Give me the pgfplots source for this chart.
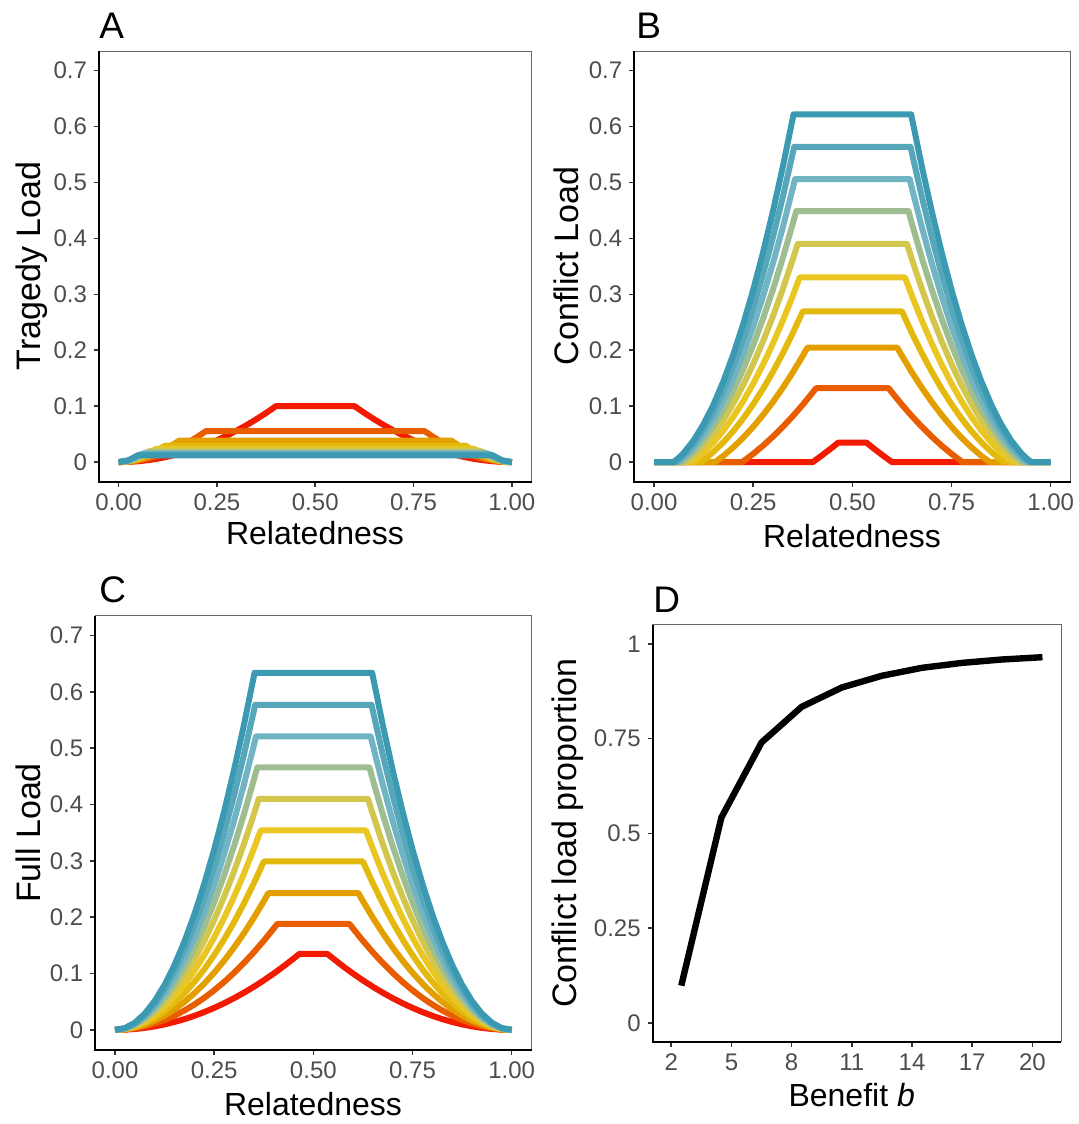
\documentclass[border=0pt]{standalone}
\usepackage{fontspec}
\setmainfont{Liberation Sans}
\usepackage{pgfplots}
\pgfplotsset{compat=1.18}
\definecolor{c0}{RGB}{242,26,0}
\definecolor{c1}{RGB}{234,92,0}
\definecolor{c2}{RGB}{227,158,0}
\definecolor{c3}{RGB}{228,185,14}
\definecolor{c4}{RGB}{233,198,33}
\definecolor{c5}{RGB}{210,199,76}
\definecolor{c6}{RGB}{158,190,145}
\definecolor{c7}{RGB}{113,180,195}
\definecolor{c8}{RGB}{86,167,186}
\definecolor{c9}{RGB}{59,154,178}
\definecolor{tickgray}{RGB}{77,77,77}
\newcommand{\tickfont}{\fontsize{12}{14}\selectfont}
\newcommand{\titlefont}{\fontsize{16}{19}\selectfont}
\newcommand{\ytitlefont}{\fontsize{17}{20}\selectfont}
\newcommand{\letterfont}{\fontsize{18.5}{22}\selectfont}
\pgfplotsset{
  panel/.style={
    scale only axis, anchor=south west, clip=false,
    axis line style={line width=0.5pt, draw=black!60},
    tick align=outside, major tick length=2.5pt,
    tick style={line width=0.8pt, draw=black!80},
    xtick pos=left, ytick pos=left,
    tick label style={font=\tickfont, text=tickgray},
  },
  rel/.style={panel,
    xmin=-0.05, xmax=1.05, ymin=-0.035, ymax=0.735,
    xtick={0,0.25,0.5,0.75,1}, xticklabels={0.00,0.25,0.50,0.75,1.00},
    ytick={0,0.1,0.2,0.3,0.4,0.5,0.6,0.7}, yticklabels={0,0.1,0.2,0.3,0.4,0.5,0.6,0.7},
  },
  ln/.style={line width=3pt, line join=round, #1},
}
\newcommand{\frameLB}{\draw[black, line width=1pt] (rel axis cs:0,1) -- (rel axis cs:0,0) -- (rel axis cs:1,0);}
\begin{document}
\begin{tikzpicture}[x=1pt,y=1pt]
\path[use as bounding box] (0,0) rectangle (539.5,562);

% ---------------- A: Tragedy load
\begin{axis}[rel, at={(49.5pt,321.15pt)}, width=216.25pt, height=215.35pt]
\addplot[ln=c0] coordinates {(0,0) (0.025,0.00039) (0.05,0.00156) (0.075,0.00352) (0.1,0.00625) (0.125,0.00977) (0.15,0.01406) (0.175,0.01914) (0.2,0.025) (0.225,0.03164) (0.25,0.03906) (0.275,0.04727) (0.3,0.05625) (0.325,0.06602) (0.35,0.07656) (0.375,0.08789) (0.4,0.1) (0.6,0.1) (0.625,0.08789) (0.65,0.07656) (0.675,0.06602) (0.7,0.05625) (0.725,0.04727) (0.75,0.03906) (0.775,0.03164) (0.8,0.025) (0.825,0.01914) (0.85,0.01406) (0.875,0.00977) (0.9,0.00625) (0.925,0.00352) (0.95,0.00156) (0.975,0.00039) (1,0)};
\addplot[ln=c1] coordinates {(0,0) (0.025,0.0007) (0.05,0.00281) (0.075,0.00633) (0.1,0.01125) (0.125,0.01758) (0.15,0.02531) (0.175,0.03445) (0.2,0.045) (0.2222,0.05556) (0.7778,0.05556) (0.8,0.045) (0.825,0.03445) (0.85,0.02531) (0.875,0.01758) (0.9,0.01125) (0.925,0.00633) (0.95,0.00281) (0.975,0.0007) (1,0)};
\addplot[ln=c2] coordinates {(0,0) (0.025,0.00102) (0.05,0.00406) (0.075,0.00914) (0.1,0.01625) (0.125,0.02539) (0.15,0.03656) (0.1538,0.03846) (0.8462,0.03846) (0.85,0.03656) (0.875,0.02539) (0.9,0.01625) (0.925,0.00914) (0.95,0.00406) (0.975,0.00102) (1,0)};
\addplot[ln=c3] coordinates {(0,0) (0.025,0.00133) (0.05,0.00531) (0.075,0.01195) (0.1,0.02125) (0.1176,0.02941) (0.8824,0.02941) (0.9,0.02125) (0.925,0.01195) (0.95,0.00531) (0.975,0.00133) (1,0)};
\addplot[ln=c4] coordinates {(0,0) (0.025,0.00164) (0.05,0.00656) (0.075,0.01477) (0.0952,0.02381) (0.9048,0.02381) (0.925,0.01477) (0.95,0.00656) (0.975,0.00164) (1,0)};
\addplot[ln=c5] coordinates {(0,0) (0.025,0.00195) (0.05,0.00781) (0.065,0.0132) (0.08,0.02) (0.92,0.02) (0.935,0.0132) (0.95,0.00781) (0.975,0.00195) (1,0)};
\addplot[ln=c6] coordinates {(0,0) (0.025,0.00227) (0.05,0.00906) (0.069,0.01724) (0.931,0.01724) (0.95,0.00906) (0.975,0.00227) (1,0)};
\addplot[ln=c7] coordinates {(0,0) (0.025,0.00258) (0.05,0.01031) (0.0606,0.01515) (0.9394,0.01515) (0.95,0.01031) (0.975,0.00258) (1,0)};
\addplot[ln=c8] coordinates {(0,0) (0.025,0.00289) (0.0541,0.01351) (0.9459,0.01351) (0.975,0.00289) (1,0)};
\addplot[ln=c9] coordinates {(0,0) (0.025,0.0032) (0.0488,0.0122) (0.9512,0.0122) (0.975,0.0032) (1,0)};
\frameLB
\end{axis}

% ---------------- B: Conflict load
\begin{axis}[rel, at={(317.1pt,321.15pt)}, width=218.15pt, height=215.35pt]
\addplot[ln=c0] coordinates {(0,0) (0.4,0) (0.425,0.01289) (0.45,0.02656) (0.4648,0.035) (0.5352,0.035) (0.55,0.02656) (0.575,0.01289) (0.6,0) (1,0)};
\addplot[ln=c1] coordinates {(0,0) (0.2222,0) (0.225,0.00139) (0.25,0.01475) (0.275,0.02952) (0.3,0.04569) (0.325,0.06327) (0.35,0.08225) (0.375,0.10264) (0.4,0.12444) (0.4088,0.1324) (0.5912,0.1324) (0.6,0.12444) (0.625,0.10264) (0.65,0.08225) (0.675,0.06327) (0.7,0.04569) (0.725,0.02952) (0.75,0.01475) (0.775,0.00139) (0.7778,0) (1,0)};
\addplot[ln=c2] coordinates {(0,0) (0.1538,0) (0.175,0.01131) (0.2,0.02654) (0.225,0.04381) (0.25,0.0631) (0.275,0.08443) (0.3,0.10779) (0.325,0.13318) (0.35,0.1606) (0.375,0.19006) (0.3867,0.2045) (0.6133,0.2045) (0.625,0.19006) (0.65,0.1606) (0.675,0.13318) (0.7,0.10779) (0.725,0.08443) (0.75,0.0631) (0.775,0.04381) (0.8,0.02654) (0.825,0.01131) (0.8462,0) (1,0)};
\addplot[ln=c3] coordinates {(0,0) (0.1176,0) (0.125,0.00379) (0.15,0.0184) (0.175,0.03567) (0.2,0.05559) (0.225,0.07817) (0.25,0.1034) (0.275,0.13129) (0.3,0.16184) (0.325,0.19504) (0.35,0.2309) (0.3751,0.2696) (0.6249,0.2696) (0.65,0.2309) (0.675,0.19504) (0.7,0.16184) (0.725,0.13129) (0.75,0.1034) (0.775,0.07817) (0.8,0.05559) (0.825,0.03567) (0.85,0.0184) (0.875,0.00379) (0.8824,0) (1,0)};
\addplot[ln=c4] coordinates {(0,0) (0.0952,0) (0.1,0.00244) (0.125,0.01721) (0.15,0.03525) (0.175,0.05658) (0.2,0.08119) (0.225,0.10908) (0.25,0.14025) (0.275,0.17471) (0.3,0.21244) (0.325,0.25346) (0.35,0.29775) (0.3672,0.3302) (0.6328,0.3302) (0.65,0.29775) (0.675,0.25346) (0.7,0.21244) (0.725,0.17471) (0.75,0.14025) (0.775,0.10908) (0.8,0.08119) (0.825,0.05658) (0.85,0.03525) (0.875,0.01721) (0.9,0.00244) (0.9048,0) (1,0)};
\addplot[ln=c5] coordinates {(0,0) (0.08,0) (0.09,0.00531) (0.1,0.01125) (0.125,0.02883) (0.15,0.05031) (0.175,0.0757) (0.2,0.105) (0.225,0.1382) (0.25,0.17531) (0.275,0.21633) (0.3,0.26125) (0.325,0.31008) (0.35,0.36281) (0.3622,0.39) (0.6378,0.39) (0.65,0.36281) (0.675,0.31008) (0.7,0.26125) (0.725,0.21633) (0.75,0.17531) (0.775,0.1382) (0.8,0.105) (0.825,0.0757) (0.85,0.05031) (0.875,0.02883) (0.9,0.01125) (0.91,0.00531) (0.92,0) (1,0)};
\addplot[ln=c6] coordinates {(0,0) (0.069,0) (0.075,0.00315) (0.1,0.01901) (0.125,0.0394) (0.15,0.06432) (0.175,0.09378) (0.2,0.12776) (0.225,0.16628) (0.25,0.20932) (0.275,0.2569) (0.3,0.30901) (0.325,0.36565) (0.35,0.42682) (0.3585,0.4488) (0.6415,0.4488) (0.65,0.42682) (0.675,0.36565) (0.7,0.30901) (0.725,0.2569) (0.75,0.20932) (0.775,0.16628) (0.8,0.12776) (0.825,0.09378) (0.85,0.06432) (0.875,0.0394) (0.9,0.01901) (0.925,0.00315) (0.931,0) (1,0)};
\addplot[ln=c7] coordinates {(0,0) (0.0606,0) (0.075,0.00805) (0.1,0.0261) (0.125,0.0493) (0.15,0.07766) (0.175,0.11118) (0.2,0.14985) (0.225,0.19368) (0.25,0.24266) (0.275,0.2968) (0.3,0.3561) (0.325,0.42055) (0.35,0.49016) (0.3554,0.5059) (0.6446,0.5059) (0.65,0.49016) (0.675,0.42055) (0.7,0.3561) (0.725,0.2968) (0.75,0.24266) (0.775,0.19368) (0.8,0.14985) (0.825,0.11118) (0.85,0.07766) (0.875,0.0493) (0.9,0.0261) (0.925,0.00805) (0.9394,0) (1,0)};
\addplot[ln=c8] coordinates {(0,0) (0.0541,0) (0.0625,0.00456) (0.075,0.01251) (0.1,0.03274) (0.125,0.05876) (0.15,0.09055) (0.175,0.12813) (0.2,0.17149) (0.225,0.22063) (0.25,0.27555) (0.275,0.33626) (0.3,0.40274) (0.325,0.47501) (0.35,0.55305) (0.3532,0.5635) (0.6468,0.5635) (0.65,0.55305) (0.675,0.47501) (0.7,0.40274) (0.725,0.33626) (0.75,0.27555) (0.775,0.22063) (0.8,0.17149) (0.825,0.12813) (0.85,0.09055) (0.875,0.05876) (0.9,0.03274) (0.925,0.01251) (0.9375,0.00456) (0.9459,0) (1,0)};
\addplot[ln=c9] coordinates {(0,0) (0.0488,0) (0.0625,0.00782) (0.075,0.01663) (0.1,0.03905) (0.125,0.06788) (0.15,0.10311) (0.175,0.14475) (0.2,0.1928) (0.225,0.24725) (0.25,0.30811) (0.275,0.37538) (0.3,0.44905) (0.325,0.52913) (0.35,0.61561) (0.3517,0.6218) (0.6483,0.6218) (0.65,0.61561) (0.675,0.52913) (0.7,0.44905) (0.725,0.37538) (0.75,0.30811) (0.775,0.24725) (0.8,0.1928) (0.825,0.14475) (0.85,0.10311) (0.875,0.06788) (0.9,0.03905) (0.925,0.01663) (0.9375,0.00782) (0.9512,0) (1,0)};
\frameLB
\end{axis}

% ---------------- C: Full load
\begin{axis}[rel, at={(47.6pt,37.2pt)}, width=218.15pt, height=216.85pt]
\addplot[ln=c0] coordinates {(0,0) (0.025,0.00039) (0.05,0.00156) (0.075,0.00352) (0.1,0.00625) (0.125,0.00977) (0.15,0.01406) (0.175,0.01914) (0.2,0.025) (0.225,0.03164) (0.25,0.03906) (0.275,0.04727) (0.3,0.05625) (0.325,0.06602) (0.35,0.07656) (0.375,0.08789) (0.4,0.1) (0.425,0.11289) (0.45,0.12656) (0.4648,0.135) (0.5352,0.135) (0.55,0.12656) (0.575,0.11289) (0.6,0.1) (0.625,0.08789) (0.65,0.07656) (0.675,0.06602) (0.7,0.05625) (0.725,0.04727) (0.75,0.03906) (0.775,0.03164) (0.8,0.025) (0.825,0.01914) (0.85,0.01406) (0.875,0.00977) (0.9,0.00625) (0.925,0.00352) (0.95,0.00156) (0.975,0.00039) (1,0)};
\addplot[ln=c1] coordinates {(0,0) (0.025,0.0007) (0.05,0.00281) (0.075,0.00633) (0.1,0.01125) (0.125,0.01758) (0.15,0.02531) (0.175,0.03445) (0.2,0.045) (0.225,0.05695) (0.25,0.07031) (0.275,0.08508) (0.3,0.10125) (0.325,0.11883) (0.35,0.13781) (0.375,0.1582) (0.4,0.18) (0.4088,0.188) (0.5912,0.188) (0.6,0.18) (0.625,0.1582) (0.65,0.13781) (0.675,0.11883) (0.7,0.10125) (0.725,0.08508) (0.75,0.07031) (0.775,0.05695) (0.8,0.045) (0.825,0.03445) (0.85,0.02531) (0.875,0.01758) (0.9,0.01125) (0.925,0.00633) (0.95,0.00281) (0.975,0.0007) (1,0)};
\addplot[ln=c2] coordinates {(0,0) (0.025,0.00102) (0.05,0.00406) (0.075,0.00914) (0.1,0.01625) (0.125,0.02539) (0.15,0.03656) (0.175,0.04977) (0.2,0.065) (0.225,0.08227) (0.25,0.10156) (0.275,0.12289) (0.3,0.14625) (0.325,0.17164) (0.35,0.19906) (0.375,0.22852) (0.3867,0.243) (0.6133,0.243) (0.625,0.22852) (0.65,0.19906) (0.675,0.17164) (0.7,0.14625) (0.725,0.12289) (0.75,0.10156) (0.775,0.08227) (0.8,0.065) (0.825,0.04977) (0.85,0.03656) (0.875,0.02539) (0.9,0.01625) (0.925,0.00914) (0.95,0.00406) (0.975,0.00102) (1,0)};
\addplot[ln=c3] coordinates {(0,0) (0.025,0.00133) (0.05,0.00531) (0.075,0.01195) (0.1,0.02125) (0.125,0.0332) (0.15,0.04781) (0.175,0.06508) (0.2,0.085) (0.225,0.10758) (0.25,0.13281) (0.275,0.1607) (0.3,0.19125) (0.325,0.22445) (0.35,0.26031) (0.3751,0.299) (0.6249,0.299) (0.65,0.26031) (0.675,0.22445) (0.7,0.19125) (0.725,0.1607) (0.75,0.13281) (0.775,0.10758) (0.8,0.085) (0.825,0.06508) (0.85,0.04781) (0.875,0.0332) (0.9,0.02125) (0.925,0.01195) (0.95,0.00531) (0.975,0.00133) (1,0)};
\addplot[ln=c4] coordinates {(0,0) (0.025,0.00164) (0.05,0.00656) (0.075,0.01477) (0.1,0.02625) (0.125,0.04102) (0.15,0.05906) (0.175,0.08039) (0.2,0.105) (0.225,0.13289) (0.25,0.16406) (0.275,0.19852) (0.3,0.23625) (0.325,0.27727) (0.35,0.32156) (0.3672,0.354) (0.6328,0.354) (0.65,0.32156) (0.675,0.27727) (0.7,0.23625) (0.725,0.19852) (0.75,0.16406) (0.775,0.13289) (0.8,0.105) (0.825,0.08039) (0.85,0.05906) (0.875,0.04102) (0.9,0.02625) (0.925,0.01477) (0.95,0.00656) (0.975,0.00164) (1,0)};
\addplot[ln=c5] coordinates {(0,0) (0.025,0.00195) (0.05,0.00781) (0.075,0.01758) (0.1,0.03125) (0.125,0.04883) (0.15,0.07031) (0.175,0.0957) (0.2,0.125) (0.225,0.1582) (0.25,0.19531) (0.275,0.23633) (0.3,0.28125) (0.325,0.33008) (0.35,0.38281) (0.3622,0.41) (0.6378,0.41) (0.65,0.38281) (0.675,0.33008) (0.7,0.28125) (0.725,0.23633) (0.75,0.19531) (0.775,0.1582) (0.8,0.125) (0.825,0.0957) (0.85,0.07031) (0.875,0.04883) (0.9,0.03125) (0.925,0.01758) (0.95,0.00781) (0.975,0.00195) (1,0)};
\addplot[ln=c6] coordinates {(0,0) (0.025,0.00227) (0.05,0.00906) (0.075,0.02039) (0.1,0.03625) (0.125,0.05664) (0.15,0.08156) (0.175,0.11102) (0.2,0.145) (0.225,0.18352) (0.25,0.22656) (0.275,0.27414) (0.3,0.32625) (0.325,0.38289) (0.35,0.44406) (0.3585,0.466) (0.6415,0.466) (0.65,0.44406) (0.675,0.38289) (0.7,0.32625) (0.725,0.27414) (0.75,0.22656) (0.775,0.18352) (0.8,0.145) (0.825,0.11102) (0.85,0.08156) (0.875,0.05664) (0.9,0.03625) (0.925,0.02039) (0.95,0.00906) (0.975,0.00227) (1,0)};
\addplot[ln=c7] coordinates {(0,0) (0.025,0.00258) (0.05,0.01031) (0.075,0.0232) (0.1,0.04125) (0.125,0.06445) (0.15,0.09281) (0.175,0.12633) (0.2,0.165) (0.225,0.20883) (0.25,0.25781) (0.275,0.31195) (0.3,0.37125) (0.325,0.4357) (0.35,0.50531) (0.3554,0.521) (0.6446,0.521) (0.65,0.50531) (0.675,0.4357) (0.7,0.37125) (0.725,0.31195) (0.75,0.25781) (0.775,0.20883) (0.8,0.165) (0.825,0.12633) (0.85,0.09281) (0.875,0.06445) (0.9,0.04125) (0.925,0.0232) (0.95,0.01031) (0.975,0.00258) (1,0)};
\addplot[ln=c8] coordinates {(0,0) (0.025,0.00289) (0.05,0.01156) (0.075,0.02602) (0.1,0.04625) (0.125,0.07227) (0.15,0.10406) (0.175,0.14164) (0.2,0.185) (0.225,0.23414) (0.25,0.28906) (0.275,0.34977) (0.3,0.41625) (0.325,0.48852) (0.35,0.56656) (0.3532,0.577) (0.6468,0.577) (0.65,0.56656) (0.675,0.48852) (0.7,0.41625) (0.725,0.34977) (0.75,0.28906) (0.775,0.23414) (0.8,0.185) (0.825,0.14164) (0.85,0.10406) (0.875,0.07227) (0.9,0.04625) (0.925,0.02602) (0.95,0.01156) (0.975,0.00289) (1,0)};
\addplot[ln=c9] coordinates {(0,0) (0.025,0.0032) (0.05,0.01281) (0.075,0.02883) (0.1,0.05125) (0.125,0.08008) (0.15,0.11531) (0.175,0.15695) (0.2,0.205) (0.225,0.25945) (0.25,0.32031) (0.275,0.38758) (0.3,0.46125) (0.325,0.54133) (0.35,0.62781) (0.3517,0.634) (0.6483,0.634) (0.65,0.62781) (0.675,0.54133) (0.7,0.46125) (0.725,0.38758) (0.75,0.32031) (0.775,0.25945) (0.8,0.205) (0.825,0.15695) (0.85,0.11531) (0.875,0.08008) (0.9,0.05125) (0.925,0.02883) (0.95,0.01281) (0.975,0.0032) (1,0)};
\frameLB
\end{axis}

% ---------------- D: Conflict load proportion
\begin{axis}[panel, at={(326.35pt,41.15pt)}, width=204.15pt, height=208.35pt,
  xmin=1.075, xmax=21.425, ymin=-0.05, ymax=1.05,
  xtick={2,5,8,11,14,17,20}, xticklabels={2,5,8,11,14,17,20},
  ytick={0,0.25,0.5,0.75,1}, yticklabels={0,0.25,0.5,0.75,1}]
\addplot[black, line width=3.2pt, line join=round] coordinates {(2.5,0.098) (4.5,0.542) (6.5,0.740) (8.5,0.834) (10.5,0.885) (12.5,0.916) (14.5,0.937) (16.5,0.950) (18.5,0.959) (20.5,0.965)};
\frameLB
\end{axis}

% ---------------- titles and labels
\node[font=\letterfont, anchor=base west, inner sep=0] at (49.5,542.85) {A};
\node[font=\letterfont, anchor=base west, inner sep=0] at (318,542.85) {B};
\node[font=\letterfont, anchor=base west, inner sep=0] at (49.5,260.5) {C};
\node[font=\letterfont, anchor=base west, inner sep=0] at (326.5,255.5) {D};

\node[font=\titlefont, anchor=base, inner sep=0] at (157.5,289.5) {Relatedness};
\node[font=\titlefont, anchor=base, inner sep=0] at (426,288) {Relatedness};
\node[font=\titlefont, anchor=base, inner sep=0] at (156.5,4.5) {Relatedness};
\node[font=\titlefont, anchor=base, inner sep=0] at (425.85,8.65) {Benefit \textit{b}};

\node[font=\ytitlefont, anchor=base, inner sep=0, rotate=90] at (20.5,429) {Tragedy Load};
\node[font=\ytitlefont, anchor=base, inner sep=0, rotate=90] at (289,429) {Conflict Load};
\node[font=\ytitlefont, anchor=base, inner sep=0, rotate=90] at (20.5,145.5) {Full Load};
\node[font=\ytitlefont, anchor=base, inner sep=0, rotate=90] at (288,145.5) {Conflict load proportion};
\end{tikzpicture}
\end{document}
